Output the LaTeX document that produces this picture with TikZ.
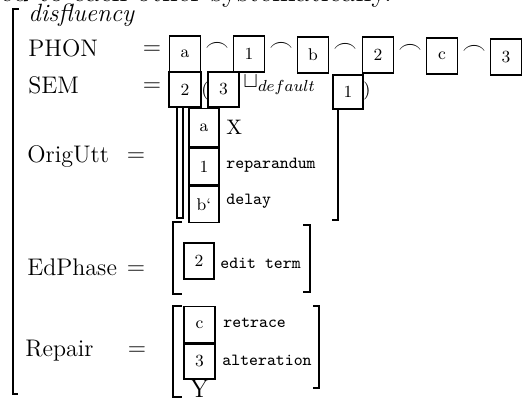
\documentclass[tikz,border=0pt]{standalone}
\usepackage{fontspec}
\begin{document}
\begin{tikzpicture}[x=0.5pt,y=-0.5pt,
  lbl/.style={font=\fontsize{12}{14}\selectfont, anchor=base west, inner sep=0pt},
  eqs/.style={font=\fontsize{12}{14}\selectfont, inner sep=0pt},
  tag/.style={draw, line width=0.65pt, inner sep=0pt, font=\fontsize{8.5}{10}\selectfont},
  val/.style={font=\ttfamily\fontsize{8.5}{10}\selectfont, anchor=west, inner sep=0pt},
  brk/.style={line width=0.75pt},
  cat/.style={font=\fontsize{11.5}{13}\selectfont, inner sep=0pt}]
\useasboundingbox (0,0) rectangle (525,400);
\clip (0,0) rectangle (525,400);

% running text above the matrix
\node[anchor=base west, inner sep=0pt, font=\fontsize{14.5}{16}\selectfont] (prose) at (0,2) {ed to each other systematically.};

% outer bracket of the disfluency matrix
\draw[brk] (19,9) -- (13,9) -- (13,394) -- (18,394);
\node[anchor=base west, inner sep=0pt, font=\fontsize{12.5}{14}\selectfont\itshape] (type) at (28,22) {disfluency};

% feature names and equals signs
\node[lbl] (fphon) at (28,57) {PHON};
\node[lbl] (fsem) at (28,94) {SEM};
\node[lbl] (forig) at (27,163) {OrigUtt};
\node[lbl] (fedit) at (27,276) {EdPhase};
\node[lbl] (frep) at (25,357) {Repair};
\node[eqs] (eq1) at (152,50) {$=$};
\node[eqs] (eq2) at (152,87) {$=$};
\node[eqs] (eq3) at (136,157) {$=$};
\node[eqs] (eq4) at (136,270) {$=$};
\node[eqs] (eq5) at (137,351) {$=$};

% PHON: concatenation of tags
\node[tag, minimum width=15.5pt, minimum height=18pt] (pa) at (185,54) {a};
\node[tag, minimum width=15.5pt, minimum height=18pt] (p1) at (249,54) {1};
\node[tag, minimum width=15.5pt, minimum height=18pt] (pb) at (313,55) {b};
\node[tag, minimum width=15.5pt, minimum height=18pt] (p2) at (378,55) {2};
\node[tag, minimum width=15.5pt, minimum height=18pt] (pc) at (442,56) {c};
\node[tag, minimum width=15.5pt, minimum height=18pt] (p3) at (506,57) {3};
\node[cat] (c1) at (217,47) {$\frown$};
\node[cat] (c2) at (281,47) {$\frown$};
\node[cat] (c3) at (345,48) {$\frown$};
\node[cat] (c4) at (410,49) {$\frown$};
\node[cat] (c5) at (474,50) {$\frown$};

% SEM
\node[tag, minimum width=16pt, minimum height=17.5pt] (s2) at (185,89.5) {2};
\node[inner sep=0pt, font=\fontsize{9}{10}\selectfont] (lp) at (205,91) {(};
\node[tag, minimum width=15.5pt, minimum height=17.5pt] (s3) at (223.5,89.5) {3};
\node[anchor=base west, inner sep=0pt, font=\fontsize{11}{13}\selectfont] (join) at (243,88) {$\sqcup_{default}$};
\node[tag, minimum width=15pt, minimum height=17pt] (s1) at (348,92) {1};
\node[inner sep=0pt, font=\fontsize{9}{10}\selectfont] (rp) at (367,91) {)};

% OrigUtt
\node[tag, minimum width=15pt, minimum height=19pt, anchor=north] (oa) at (204,108) {a};
\node[tag, minimum width=15pt, minimum height=18.5pt, anchor=north] (o1) at (oa.south) {1};
\node[tag, minimum width=15pt, minimum height=18pt, anchor=north] (ob) at (o1.south) {b`};
\coordinate (ol1) at (177,107);
\coordinate (ol2) at (183,107);
\draw[brk] (ol1) -- (177,218) -- (183,218) -- (ol2);
\draw[brk] (338,109) -- (338,220) -- (332,220);
\node[anchor=west, inner sep=0pt, font=\fontsize{10.5}{12}\selectfont] (vx) at (226,127) {X};
\node[val] (vrep) at (226,165) {reparandum};
\node[val] (vdel) at (226,201) {delay};

% EdPhase
\draw[brk] (182,222) -- (173,222) -- (173,294) -- (182,294);
\draw[brk] (303,225) -- (310,225) -- (310,292) -- (303,292);
\node[tag, minimum width=15pt, minimum height=18pt] (e2) at (199,261) {2};
\node[val] (vedit) at (220,263) {edit term};

% Repair
\draw[brk] (182,306) -- (173,306) -- (173,397) -- (182,397);
\draw[brk] (313,306) -- (319,306) -- (319,388) -- (313,388);
\node[tag, minimum width=15.5pt, minimum height=18pt, anchor=north] (rc) at (199.5,306) {c};
\node[tag, minimum width=15.5pt, minimum height=17.5pt, anchor=north] (r3) at (rc.south) {3};
\node[anchor=north, inner sep=0pt, font=\fontsize{13}{14}\selectfont] (ry) at (r3.south) {Y};
\node[val] (vret) at (223,323) {retrace};
\node[val] (valt) at (222,360) {alteration};
\end{tikzpicture}
\end{document}
